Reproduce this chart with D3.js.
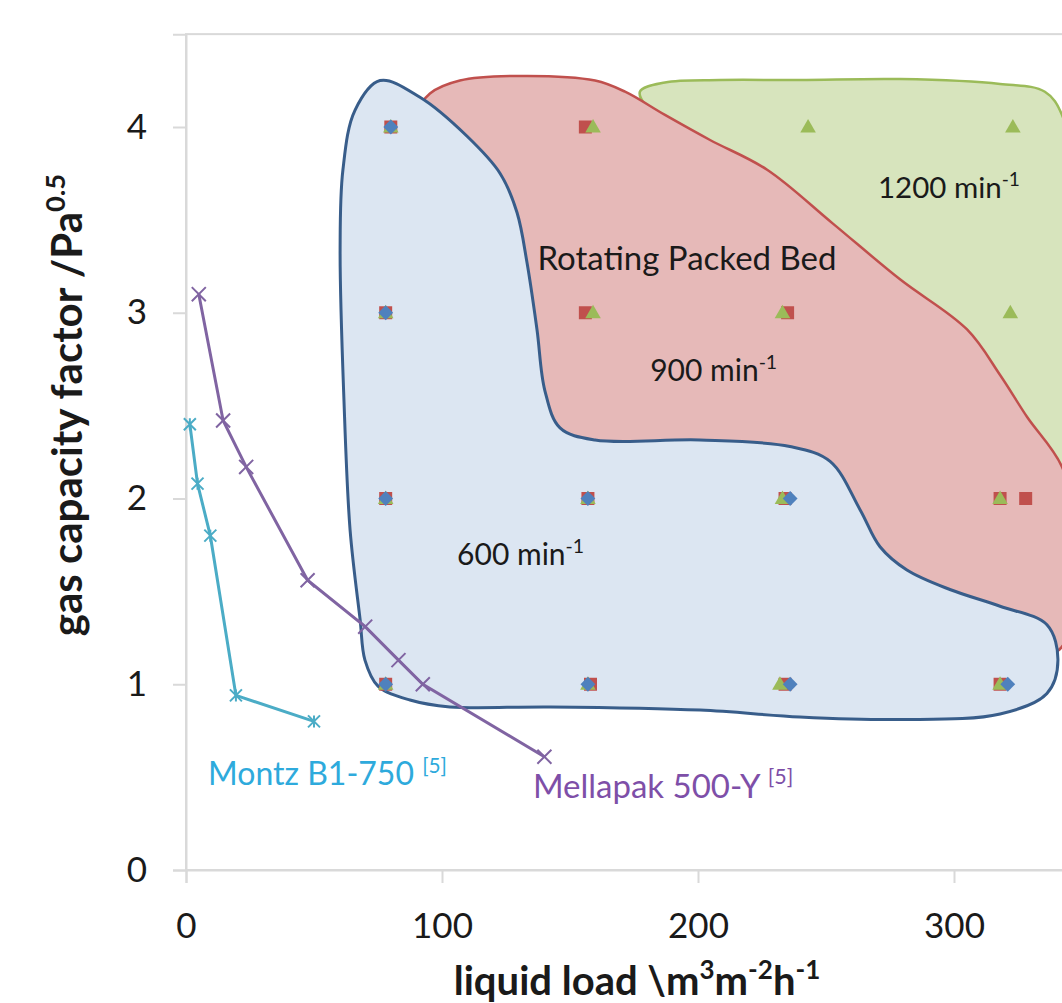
<!DOCTYPE html>
<html>
<head>
<meta charset="utf-8">
<script src="https://cdn.jsdelivr.net/npm/d3@7"></script>
<style>
body { margin: 0; background: #fff; }
svg { display: block; font-family: Lato, "Open Sans", sans-serif; }
</style>
</head>
<body>
<svg id="chart" width="1062" height="1003"></svg>
<script>
const xTicks = [0, 100, 200, 300];
const yTicks = [0, 1, 2, 3, 4];

// RPB flooding points [liquid load, gas capacity factor]
const rpb600 = [[80, 4], [78, 3], [78, 2], [78, 1], [157, 2], [157, 1], [236, 2], [236, 1], [321, 1]];
const rpb900 = [[80, 4], [78, 3], [78, 2], [78, 1], [156, 4], [156, 3], [157, 2], [158, 1],
    [235, 3], [234, 2], [234, 1], [318, 2], [328, 2], [318, 1]];
const rpb1200 = [[80, 4], [78, 3], [78, 2], [78, 1], [159, 4], [159, 3], [157, 2], [157, 1],
    [233, 3], [233, 2], [232, 1], [318, 2], [318, 1], [243, 4], [323, 4], [322, 3]];

// structured packings from literature
const montz = [[1.5, 2.4], [4.5, 2.08], [9.5, 1.8], [19.5, 0.94], [50, 0.8]];
const mellapak = [[5, 3.1], [14.5, 2.42], [23.5, 2.17], [47.5, 1.56], [70, 1.31], [83, 1.13], [92.5, 1.0], [140, 0.61]];

// hand drawn operating windows
const region600 = [[75.8, 4.25], [91.4, 4.16], [109.8, 3.95], [122.7, 3.75], [129.3, 3.54], [133.2, 3.27],
    [137.1, 2.91], [140.2, 2.58], [146.1, 2.38], [159.8, 2.315], [200.8, 2.315], [235.9, 2.28], [251.6, 2.2],
    [263.3, 1.94], [271.1, 1.74], [281.6, 1.615], [298.4, 1.51], [318, 1.42], [336.3, 1.32], [340.6, 1.13],
    [336.3, 0.95], [318, 0.84], [278.9, 0.81], [239.8, 0.824], [200.8, 0.861], [142.2, 0.878], [103.1, 0.878],
    [87.5, 0.915], [75, 0.99], [69.9, 1.13], [68, 1.35], [64.1, 1.83], [61.7, 2.53], [60.2, 3.34], [61.3, 3.77], [66, 4.09]];
const region900 = [[89.5, 4.06], [95.3, 4.18], [107, 4.25], [130.5, 4.275], [159.8, 4.25], [171.5, 4.19],
    [187.1, 4.065], [204.7, 3.93], [227, 3.77], [252.7, 3.48], [278.9, 3.18], [305.1, 2.91], [318, 2.665],
    [328.5, 2.44], [342.2, 2.17], [348.4, 1.78], [347.3, 1.45], [340.6, 1.18], [318, 1.16], [239.8, 1.4],
    [161.7, 1.45], [107, 1.99], [91.4, 3.07], [87.5, 3.82]];
const region1200 = [[177.3, 4.19], [187.1, 4.24], [208.6, 4.253], [239.8, 4.253], [278.9, 4.258], [318, 4.232],
    [335.5, 4.19], [342.2, 4.065], [347.3, 3.6], [349.2, 2.8], [347.3, 2.15], [335.5, 2.11], [298.4, 2.75],
    [239.8, 3.47], [200.8, 3.85], [183.2, 4.05]];

const svg = d3.select('#chart');
const x = d3.scaleLinear().domain([0, 350]).range([186, 186 + 350 * 2.56]);
const y = d3.scaleLinear().domain([0, 4.5]).range([870, 870 - 4.5 * 185.75]);

const axisColor = '#d9d9d9';

// plot area border
svg.append('rect')
    .attr('x', x(0)).attr('y', y(4.5))
    .attr('width', x(350) - x(0)).attr('height', y(0) - y(4.5))
    .attr('fill', 'none').attr('stroke', axisColor).attr('stroke-width', 2);

const gx = svg.append('g')
    .attr('transform', `translate(0,${y(0)})`)
    .call(d3.axisBottom(x).tickValues(xTicks).tickSize(13).tickPadding(30));
const gy = svg.append('g')
    .attr('transform', `translate(${x(0)},0)`)
    .call(d3.axisLeft(y).tickValues(yTicks).tickFormat(d3.format('d')).tickSize(13).tickPadding(26));
[gx, gy].forEach(g => {
    g.selectAll('path, line').attr('stroke', axisColor).attr('stroke-width', 2);
    g.selectAll('text').attr('font-size', 35).attr('fill', '#1a1a1a').attr('font-family', 'Lato');
});

// regions
const blob = d3.line()
    .x(d => x(d[0]))
    .y(d => y(d[1]))
    .curve(d3.curveCatmullRomClosed.alpha(0.5));

svg.append('path').datum(region1200).attr('d', blob)
    .attr('fill', '#d7e4bd').attr('stroke', '#9bbb59').attr('stroke-width', 2.5);
svg.append('path').datum(region900).attr('d', blob)
    .attr('fill', '#e6b9b8').attr('stroke', '#c0504d').attr('stroke-width', 2.5);
svg.append('path').datum(region600).attr('d', blob)
    .attr('fill', '#dce6f2').attr('stroke', '#385d8a').attr('stroke-width', 3);

// literature curves
const line = d3.line().x(d => x(d[0])).y(d => y(d[1]));

const star = {
    draw(ctx, size) {
        const r = Math.sqrt(size) / 2;
        ctx.moveTo(-r, -r); ctx.lineTo(r, r);
        ctx.moveTo(r, -r); ctx.lineTo(-r, r);
        ctx.moveTo(0, -r); ctx.lineTo(0, r);
    }
};

svg.append('path').datum(montz).attr('d', line)
    .attr('fill', 'none').attr('stroke', '#4bacc6').attr('stroke-width', 3);
svg.selectAll('.montz').data(montz).join('path')
    .attr('class', 'montz')
    .attr('transform', d => `translate(${x(d[0])},${y(d[1])})`)
    .attr('d', d3.symbol(star, 144))
    .attr('fill', 'none').attr('stroke', '#4bacc6').attr('stroke-width', 2);

svg.append('path').datum(mellapak).attr('d', line)
    .attr('fill', 'none').attr('stroke', '#8064a2').attr('stroke-width', 3);
svg.selectAll('.mella').data(mellapak).join('path')
    .attr('class', 'mella')
    .attr('transform', d => `translate(${x(d[0])},${y(d[1])})`)
    .attr('d', d3.symbol(d3.symbolTimes, 130))
    .attr('fill', 'none').attr('stroke', '#8064a2').attr('stroke-width', 2);

// RPB markers: 900 squares, 1200 triangles, 600 diamonds on top
svg.selectAll('.r900').data(rpb900).join('path')
    .attr('class', 'r900')
    .attr('transform', d => `translate(${x(d[0])},${y(d[1])})`)
    .attr('d', d3.symbol(d3.symbolSquare, 169))
    .attr('fill', '#c0504d');
svg.selectAll('.r1200').data(rpb1200).join('path')
    .attr('class', 'r1200')
    .attr('transform', d => `translate(${x(d[0])},${y(d[1]) + 1})`)
    .attr('d', d3.symbol(d3.symbolTriangle, 105))
    .attr('fill', '#9bbb59');
svg.selectAll('.r600').data(rpb600).join('path')
    .attr('class', 'r600')
    .attr('transform', d => `translate(${x(d[0])},${y(d[1])}) rotate(45)`)
    .attr('d', d3.symbol(d3.symbolSquare, 110))
    .attr('fill', '#4f81bd');

// text with superscripts
function rich(g, parts, size) {
    let up = false;
    parts.forEach(([t, sup]) => {
        const ts = g.append('tspan').text(t);
        if (sup && !up) { ts.attr('dy', -0.4 * size).attr('font-size', size * 0.65); up = true; }
        else if (sup) { ts.attr('font-size', size * 0.65); }
        else if (up) { ts.attr('dy', 0.4 * size); up = false; }
    });
    return g;
}

function label(px, py, parts, size, opts = {}) {
    const t = svg.append('text')
        .attr('x', px).attr('y', py)
        .attr('font-size', size)
        .attr('fill', opts.fill || '#1a1a1a')
        .attr('font-weight', opts.weight || 'normal')
        .attr('text-anchor', opts.anchor || 'start');
    if (opts.transform) t.attr('transform', opts.transform);
    return rich(t, parts, size);
}

label(x(195.7), y(3.23), [['Rotating Packed Bed']], 33, { anchor: 'middle' });
label(x(270.3), y(3.62), [['1200 min'], ['-1', true]], 29.5);
label(x(181.3), y(2.63), [['900 min'], ['-1', true]], 30);
label(x(105.9), y(1.64), [['600 min'], ['-1', true]], 30);
label(x(8.6), y(0.455), [['Montz B1-750 '], ['[5]', true]], 32, { fill: '#2eaadc' });
label(x(135.5), y(0.39), [['Mellapak 500-Y '], ['[5]', true]], 33, { fill: '#7e4fa8' });

label(637, 995, [['liquid load \\m'], ['3', true], ['m'], ['-2', true], ['h'], ['-1', true]], 40,
    { anchor: 'middle', weight: 'bold' });
label(0, 0, [['gas capacity factor /Pa'], ['0.5', true]], 42,
    { anchor: 'middle', weight: 'bold', transform: 'translate(82,405) rotate(-90)' });
</script>
</body>
</html>
